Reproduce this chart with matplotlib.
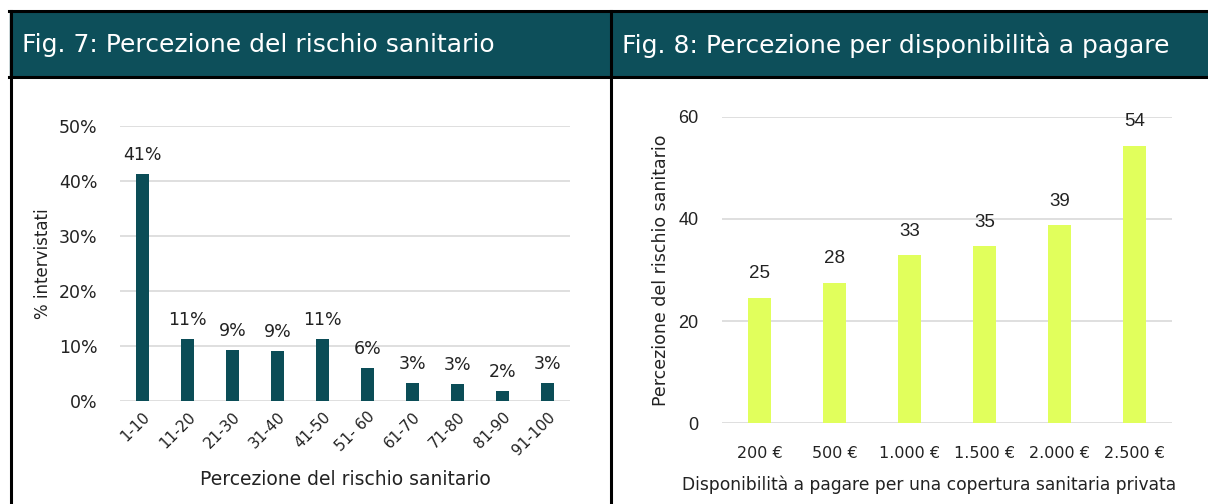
import numpy as np
import matplotlib.pyplot as plt
from matplotlib.patches import Rectangle
from matplotlib.lines import Line2D

# Fig. 7 data
risk_bins = ["1-10", "11-20", "21-30", "31-40", "41-50", "51- 60",
             "61-70", "71-80", "81-90", "91-100"]
risk_share = [41.2, 11.3, 9.2, 9.1, 11.3, 6.0, 3.3, 3.0, 1.7, 3.3]
risk_labels = ["41%", "11%", "9%", "9%", "11%", "6%", "3%", "3%", "2%", "3%"]

# Fig. 8 data
pay_levels = ["200 €", "500 €", "1.000 €", "1.500 €", "2.000 €", "2.500 €"]
pay_risk = [24.6, 27.5, 32.9, 34.6, 38.8, 54.3]

W, H = 1208, 504
TEAL = "#0b4d57"
HEAD = "#0d4f5a"
LIME = "#e1ff5c"
GRID = "#d9d9d9"
INK = "#222222"
POP = "DejaVu Sans"
ARIAL = "Liberation Sans"

fig = plt.figure(figsize=(W / 100, H / 100), dpi=100)


def fx(px):
    return px / W


def fy(py):
    return 1 - py / H


# header band and frame
fig.patches.append(Rectangle((fx(10), fy(77)), fx(1198), 66 / H,
                             transform=fig.transFigure, color=HEAD, zorder=0))
for xs, ys in [([9, 1208], [11, 11]), ([9, 1208], [77, 77]),
               ([10.5, 10.5], [11, 504]), ([610.5, 610.5], [11, 504])]:
    fig.lines.append(Line2D([fx(x) for x in xs], [fy(y) for y in ys],
                            transform=fig.transFigure, color="black", lw=2.2))

fig.text(fx(22), fy(45), "Fig. 7: Percezione del rischio sanitario",
         color="white", fontsize=18, family=POP, va="center")
fig.text(fx(622), fy(45), "Fig. 8: Percezione per disponibilità a pagare",
         color="white", fontsize=18, family=POP, va="center")

# left chart
ax1 = fig.add_axes([fx(120), fy(400.7), fx(450), (400.7 - 126) / H])
x1 = np.arange(len(risk_bins))
ax1.bar(x1, risk_share, width=0.31, color=TEAL, zorder=3)
for xi, v, lab in zip(x1, risk_share, risk_labels):
    ax1.text(xi, v + 1.8, lab, ha="center", va="bottom", fontsize=12.5,
             family=POP, color=INK)
ax1.set_xlim(-0.5, len(risk_bins) - 0.5)
ax1.set_ylim(0, 50)
ax1.set_yticks(range(0, 51, 10))
ax1.set_yticklabels([f"{t}%" for t in range(0, 51, 10)], family=POP, fontsize=12.5)
ax1.set_xticks(x1)
ax1.set_xticklabels(risk_bins, rotation=45, ha="right", rotation_mode="anchor",
                    family=POP, fontsize=11)
ax1.yaxis.grid(True, color=GRID, lw=1.2, zorder=0)
ax1.tick_params(length=0, pad=16, colors=INK)
ax1.tick_params(axis="x", pad=6)
for s in ax1.spines.values():
    s.set_visible(False)
ax1.set_ylabel("% intervistati", family=POP, fontsize=12, color=INK,
               labelpad=5)
ax1.set_xlabel("Percezione del rischio sanitario", family=POP, fontsize=13.5,
               color=INK, labelpad=9)

# right chart
ax2 = fig.add_axes([fx(722), fy(423.3), fx(450), (423.3 - 116.7) / H])
x2 = np.arange(len(pay_levels))
ax2.bar(x2, pay_risk, width=0.31, color=LIME, zorder=3)
for xi, v in zip(x2, pay_risk):
    ax2.text(xi, v + 3, f"{v:.0f}", ha="center", va="bottom", fontsize=13.5,
             family=ARIAL, color=INK)
ax2.set_xlim(-0.5, len(pay_levels) - 0.5)
ax2.set_ylim(0, 60)
ax2.set_yticks(range(0, 61, 20))
ax2.set_yticklabels([str(t) for t in range(0, 61, 20)], family=ARIAL, fontsize=13)
ax2.set_xticks(x2)
ax2.set_xticklabels(pay_levels, family=POP, fontsize=11.5)
ax2.yaxis.grid(True, color=GRID, lw=1.2, zorder=0)
ax2.tick_params(length=0, pad=17, colors=INK)
ax2.tick_params(axis="x", pad=16)
for s in ax2.spines.values():
    s.set_visible(False)
ax2.set_ylabel("Percezione del rischio sanitario", family=POP, fontsize=12.5,
               color=INK, labelpad=6)
ax2.set_xlabel("Disponibilità a pagare per una copertura sanitaria privata",
               family=POP, fontsize=12.3, color=INK, labelpad=11)
ax2.xaxis.label.set_x(0.461)

fig.savefig("out.png", dpi=100)
